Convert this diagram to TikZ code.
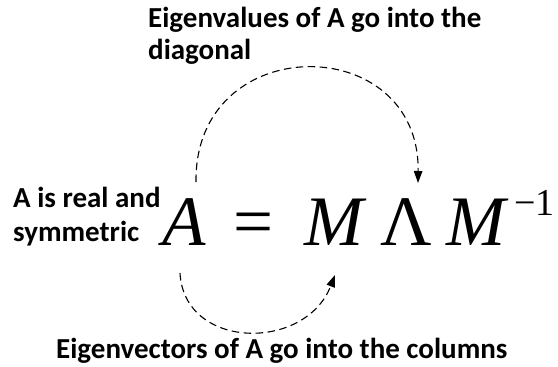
\documentclass[tikz,border=0pt]{standalone}
\usepackage{fontspec}
\usetikzlibrary{arrows.meta}
\newfontfamily\labfont{Carlito}
\newfontfamily\eqfont{Liberation Serif}
\begin{document}
\begin{tikzpicture}[x=1pt,y=-1pt,
  lab/.style={font=\labfont\bfseries\fontsize{29}{34}\selectfont, inner sep=0pt, anchor=base west},
  sym/.style={font=\eqfont\fontsize{71}{80}\selectfont, inner sep=0pt, anchor=base},
  supsym/.style={font=\eqfont\fontsize{38}{44}\selectfont, inner sep=0pt, anchor=base},
  conn/.style={line width=1.1pt, dash pattern=on 7.5pt off 4.5pt, -{Triangle[length=12pt,width=8.5pt]}}]
\useasboundingbox (0,0) rectangle (558,367);
% labels
\node[lab] (top1) at (148,27) {Eigenvalues of A go into the};
\node[lab] (top2) at (148,59) {diagonal};
\node[lab] (left1) at (13,207) {A is real and};
\node[lab] (left2) at (13,241) {symmetric};
\node[lab] (bot) at (56,358) {Eigenvectors of A go into the columns};
% equation
\node[sym] (A) at (184.5,245) {\itshape A};
\node[sym] (eq) at (254,245) {=};
\node[sym] (M1) at (334.5,245) {\itshape M};
\node[sym] (Lam) at (406,245) {Λ};
\node[sym] (M2) at (476.5,245) {\itshape M};
\node[supsym] (sup) at (534.5,215) {−1};
% connector end points
\coordinate (ta) at (196,182);
\coordinate (tb) at (418,183);
\coordinate (ba) at (180,273);
\coordinate (bb) at (335,275);
\draw[conn] (ta) .. controls (194,30) and (420,30) .. (tb);
\draw[conn] (ba) .. controls (184,350) and (305,352) .. (bb);
\end{tikzpicture}
\end{document}
